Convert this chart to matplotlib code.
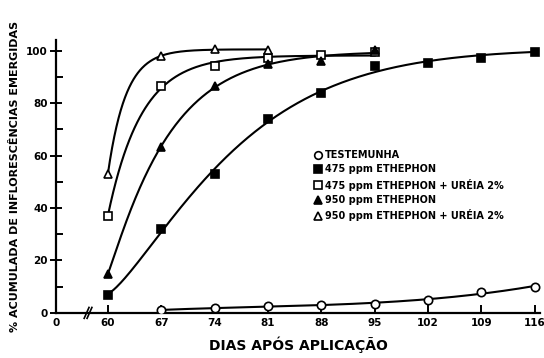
import numpy as np
import matplotlib
matplotlib.use("Agg")
import matplotlib.pyplot as plt
from matplotlib.lines import Line2D

# ------------------------------
# Daten
# ------------------------------
dias_ticks = [0, 60, 67, 74, 81, 88, 95, 102, 109, 116]

dias_test = [67, 74, 81, 88, 95, 102, 109, 116]
testemunha = [1, 2, 2.5, 3, 3.5, 5, 8, 10]

dias_475 = [60, 67, 74, 81, 88, 95, 102, 109, 116]
eth_475 = [7, 32, 53, 74, 84, 94, 95.3, 97.2, 99.5]

dias_475u = [60, 67, 74, 81, 88, 95]
eth_475_ureia = [37, 86.4, 94, 97, 98.2, 99.5]

dias_950 = [60, 67, 74, 81, 88, 95]
eth_950 = [15, 63.4, 86.4, 95, 96, 100.4]

dias_950u = [60, 67, 74, 81]
eth_950_ureia = [53, 98, 100.5, 100.3]

labels = ["TESTEMUNHA",
          "475 ppm ETHEPHON",
          "475 ppm ETHEPHON + URÉIA 2%",
          "950 ppm ETHEPHON",
          "950 ppm ETHEPHON + URÉIA 2%"]

# Achsenbruch: "0" liegt eine Teilung vor 60
X_NULL = 53.2


def xpos(d):
    d = np.asarray(d, dtype=float)
    return np.where(d == 0, X_NULL, d)


def glatte_kurve(x, y, xs, p_max):
    # ausgeglichene Kurve wie im Original (von Hand gezogen)
    x = np.asarray(x, float)
    y = np.asarray(y, float)
    if p_max is None:
        return np.polyval(np.polyfit(x, y, 3), xs)
    t = x - x[0]
    ts = xs - x[0]
    best = None
    for p in np.linspace(1.0, p_max, 21):
        for k in np.logspace(-4, 0.5, 300):
            X = np.column_stack([np.ones_like(t), -np.exp(-k * t**p)])
            coef, *_ = np.linalg.lstsq(X, y, rcond=None)
            sse = np.sum((X @ coef - y) ** 2)
            if best is None or sse < best[0]:
                best = (sse, coef, k, p)
    _, (a, b), k, p = best
    return a - b * np.exp(-k * ts**p)


# ------------------------------
# Plot
# ------------------------------
plt.rcParams['font.family'] = ['DejaVu Sans']
fig = plt.figure(figsize=(5.44, 3.58), dpi=100)
ax = fig.add_axes([0.103, 0.126, 0.89, 0.762])

serien = [
    (dias_test, testemunha, 'o', 'white', None),
    (dias_475, eth_475, 's', 'black', 2.0),
    (dias_475u, eth_475_ureia, 's', 'white', 1.0),
    (dias_950, eth_950, '^', 'black', 1.6),
    (dias_950u, eth_950_ureia, '^', 'white', 1.0),
]

for dx, dy, mk, fc, pm in serien:
    xs = np.linspace(dx[0], dx[-1], 300)
    ax.plot(xs, glatte_kurve(dx, dy, xs, pm), color='black', lw=1.5,
            zorder=2)
    ax.plot(dx, dy, linestyle='none', marker=mk, ms=6, mfc=fc,
            mec='black', mew=1.2, zorder=3)

ax.set_xlim(X_NULL, 116.7)
ax.set_ylim(0, 104)
ax.spines['top'].set_visible(False)
ax.spines['right'].set_visible(False)
ax.spines['left'].set_linewidth(1.6)
ax.spines['bottom'].set_linewidth(1.6)

ax.set_xticks(xpos(dias_ticks))
ax.set_xticklabels([str(d) for d in dias_ticks])
ax.set_yticks([0, 20, 40, 60, 80, 100])
ax.set_yticks([10, 30, 50, 70, 90], minor=True)
ax.tick_params(axis='x', direction='in', length=6, width=1.4, pad=4,
               labelsize=7.5)
ax.tick_params(axis='y', which='major', direction='inout', length=8,
               width=1.4, pad=2, labelsize=7.5)
ax.tick_params(axis='y', which='minor', direction='in', length=5, width=1.4)
for lab in ax.get_xticklabels() + ax.get_yticklabels():
    lab.set_fontweight('bold')

# Achsenbruch-Zeichen
bx = (88 - 56) / (540 - 56)
ax.plot([bx - 0.008, bx + 0.002], [-0.02, 0.02], transform=ax.transAxes,
        color='black', lw=1.2, clip_on=False)
ax.plot([bx - 0.002, bx + 0.008], [-0.02, 0.02], transform=ax.transAxes,
        color='black', lw=1.2, clip_on=False)

ax.set_xlabel('DIAS APÓS APLICAÇÃO', fontsize=10, fontweight='bold',
              labelpad=6)
ax.set_ylabel('% ACUMULADA DE INFLORESCÊNCIAS EMERGIDAS', fontsize=8,
              fontweight='bold', labelpad=4)

handles = [Line2D([], [], linestyle='none', marker=mk, ms=5.5, mfc=fc,
                  mec='black', mew=1.2) for _, _, mk, fc, _ in serien]
leg = ax.legend(handles, labels, loc='upper left',
                bbox_to_anchor=(0.52, 0.615), frameon=False,
                prop={'size': 7, 'weight': 'bold'}, handletextpad=0.3,
                handlelength=1.0, labelspacing=0.45, borderpad=0)

fig.savefig('out.png', dpi=100)
